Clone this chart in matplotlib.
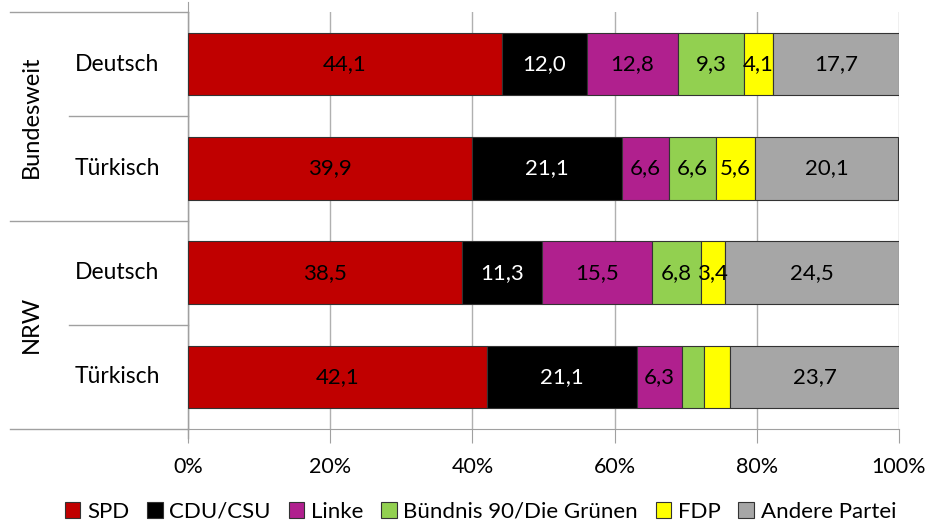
import matplotlib.pyplot as plt
import numpy as np

plt.rcParams['font.family'] = ['Lato', 'DejaVu Sans']

# data (percent)
groups = ['Bundesweit', 'NRW']
rows = ['Deutsch', 'Türkisch', 'Deutsch', 'Türkisch']
parties = ['SPD', 'CDU/CSU', 'Linke', 'Bündnis 90/Die Grünen', 'FDP', 'Andere Partei']
spd    = [44.1, 39.9, 38.5, 42.1]
cdu    = [12.0, 21.1, 11.3, 21.1]
linke  = [12.8, 6.6, 15.5, 6.3]
gruene = [9.3, 6.6, 6.8, 3.1]
fdp    = [4.1, 5.6, 3.4, 3.7]
andere = [17.7, 20.1, 24.5, 23.7]
# which labels are printed in the original (small NRW/Türkisch ones are not)
show = [[True]*6, [True]*6, [True]*6, [True, True, True, False, False, True]]

colors = ['#C00000', '#000000', '#B0208E', '#92D050', '#FFFF00', '#A6A6A6']
txtcol = ['black', 'white', 'black', 'black', 'black', 'black']
series = [spd, cdu, linke, gruene, fdp, andere]

fig = plt.figure(figsize=(9.33, 5.31), dpi=100)
ax = fig.add_axes([188/933, 1-429/531, 711/933, 417/531])

y = np.arange(len(rows))
left = np.zeros(len(rows))
for i, (vals, c) in enumerate(zip(series, colors)):
    vals = np.array(vals)
    ax.barh(y, vals, left=left, height=0.6, color=c, edgecolor='#333333',
            linewidth=0.8, label=parties[i], zorder=3)
    for j, v in enumerate(vals):
        if show[j][i]:
            ax.text(left[j] + v/2, y[j], f'{v:.1f}'.replace('.', ','),
                    ha='center', va='center', fontsize=16, color=txtcol[i], zorder=4)
    left += vals

ax.set_xlim(0, 100)
ax.set_ylim(3.5, -0.5)
ax.set_xticks([0, 20, 40, 60, 80, 100])
ax.set_xticklabels(['0%', '20%', '40%', '60%', '80%', '100%'], fontsize=15.5)
ax.tick_params(axis='x', length=10, color='#A0A0A0', pad=10)
ax.set_yticks([])
ax.grid(axis='x', color='#B0B0B0', linewidth=1, zorder=0)
for s in ['top', 'right']:
    ax.spines[s].set_visible(False)
ax.spines['bottom'].set_color('#A0A0A0')
ax.spines['left'].set_color('#A0A0A0')
ax.spines['left'].set_bounds(-0.6, 3.5)

# left category table
tr = ax.transAxes
x_out = (10-188)/711
x_in = (69-188)/711
lc = '#A0A0A0'
for yy, xs in [(1.0, x_out), (0.75, x_in), (0.5, x_out), (0.25, x_in), (0.0, x_out)]:
    ax.plot([xs, 0], [yy, yy], color=lc, linewidth=1, transform=tr, clip_on=False)
ax.plot([0, 0], [0, 1], color=lc, linewidth=1, transform=tr, clip_on=False)
ax.plot([0, 0], [0, -0.022], color=lc, linewidth=1, transform=tr, clip_on=False)

lab_x = (117-188)/711
for j, r in enumerate(rows):
    ax.text(lab_x, 1 - (j + 0.5)/4, r, transform=tr, ha='center', va='center', fontsize=16.5)
grp_x = (31-188)/711
for g, gy in zip(groups, [0.75, 0.25]):
    ax.text(grp_x, gy, g, transform=tr, ha='center', va='center', fontsize=17, rotation=90)

fig.legend(loc='lower center', ncol=6, frameon=False, fontsize=16,
           handlelength=0.7, handleheight=0.7, handletextpad=0.3, columnspacing=0.8,
           bbox_to_anchor=(0.515, -0.02))

fig.savefig('out.png', dpi=100)
